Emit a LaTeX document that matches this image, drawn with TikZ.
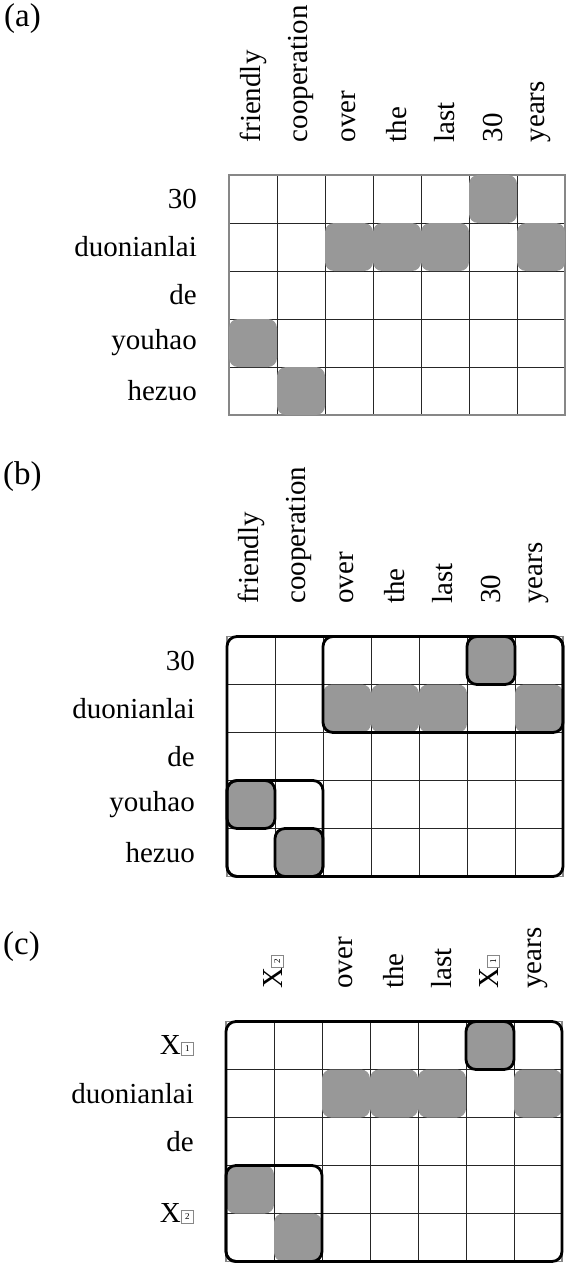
\documentclass[tikz,border=0pt]{standalone}
\usepackage{fontspec}
\setmainfont{Liberation Serif}
\definecolor{cellgray}{RGB}{152,152,152}
\definecolor{bordergray}{RGB}{135,135,135}
\newcommand{\labfont}{\fontsize{29}{34}\selectfont}
\newcommand{\panfont}{\fontsize{33}{38}\selectfont}
\newcommand{\bxsub}[1]{\raisebox{-0.5pt}{\setlength{\fboxsep}{0pt}\setlength{\fboxrule}{1pt}\fcolorbox{bordergray}{white}{\parbox[c][11pt][c]{11pt}{\centering\fontsize{9}{9}\selectfont #1}}}}
\tikzset{
  gridline/.style={line width=0.8pt, black!85},
  gridborder/.style={line width=1.6pt, bordergray},
  graycell/.style={fill=cellgray, rounded corners=9pt},
  bigbox/.style={draw=black, line width=2.8pt, rounded corners=10pt},
  rowlab/.style={anchor=east, inner sep=0pt, font=\labfont},
  collab/.style={rotate=90, anchor=west, inner sep=0pt, font=\labfont},
  panlab/.style={anchor=base west, inner sep=0pt, font=\panfont}
}
\newcommand{\drawgrid}{%
  \foreach \i in {1,...,6} \draw[gridline] ({48*\i},0) -- ({48*\i},240);
  \foreach \j in {1,...,4} \draw[gridline] (0,{48*\j}) -- (336,{48*\j});
  \draw[gridborder] (0,0) rectangle (336,240);
}
\newcommand{\gcell}[2]{\fill[graycell] ({48*(#1-1)},{48*(#2-1)}) rectangle ({48*#1},{48*#2});}
\newcommand{\tbox}[4]{\draw[bigbox] ({48*(#1-1)},{48*(#2-1)}) rectangle ({48*#3},{48*#4});}
\newcommand{\allcells}{\gcell{6}{1}\gcell{3}{2}\gcell{4}{2}\gcell{5}{2}\gcell{7}{2}\gcell{1}{4}\gcell{2}{5}}
\begin{document}
\begin{tikzpicture}[x=1pt,y=-1pt]
\useasboundingbox (0,0) rectangle (567,1263);

% ---------------- panel (a)
\node[panlab] (pa) at (4,27) {(a)};
\begin{scope}[shift={(229,175)}]
  \drawgrid
  \allcells
  \foreach \t [count=\j] in {30,duonianlai,de,youhao,hezuo}
    \node[rowlab] (a-r\j) at (-32,{48*\j-24}) {\t};
  \foreach \t [count=\i] in {friendly,cooperation,over,the,last,30,years}
    \node[collab] (a-c\i) at ({48*\i-24},-32.5) {\t};
\end{scope}

% ---------------- panel (b)
\node[panlab] (pb) at (3,484) {(b)};
\begin{scope}[shift={(227,636.5)}]
  \drawgrid
  \allcells
  \tbox{1}{1}{7}{5}
  \tbox{3}{1}{7}{2}
  \tbox{6}{1}{6}{1}
  \tbox{1}{4}{2}{5}
  \tbox{1}{4}{1}{4}
  \tbox{2}{5}{2}{5}
  \foreach \t [count=\j] in {30,duonianlai,de,youhao,hezuo}
    \node[rowlab] (b-r\j) at (-32,{48*\j-24}) {\t};
  \foreach \t [count=\i] in {friendly,cooperation,over,the,last,30,years}
    \node[collab] (b-c\i) at ({48*\i-24},-32.5) {\t};
\end{scope}

% ---------------- panel (c)
\node[panlab] (pc) at (3,954) {(c)};
\begin{scope}[shift={(226,1021.5)}]
  \drawgrid
  \allcells
  \tbox{1}{1}{7}{5}
  \tbox{6}{1}{6}{1}
  \tbox{1}{4}{2}{5}
  \node[rowlab] (c-r1) at (-32,24) {X\bxsub{1}};
  \node[rowlab] (c-r2) at (-32,72) {duonianlai};
  \node[rowlab] (c-r3) at (-32,120) {de};
  \node[rowlab] (c-r4) at (-32,192) {X\bxsub{2}};
  \node[collab] (c-c1) at (48,-32.5) {X\bxsub{2}};
  \node[collab] (c-c3) at (120,-32.5) {over};
  \node[collab] (c-c4) at (168,-32.5) {the};
  \node[collab] (c-c5) at (216,-32.5) {last};
  \node[collab] (c-c6) at (264,-32.5) {X\bxsub{1}};
  \node[collab] (c-c7) at (312,-32.5) {years};
\end{scope}
\end{tikzpicture}
\end{document}
